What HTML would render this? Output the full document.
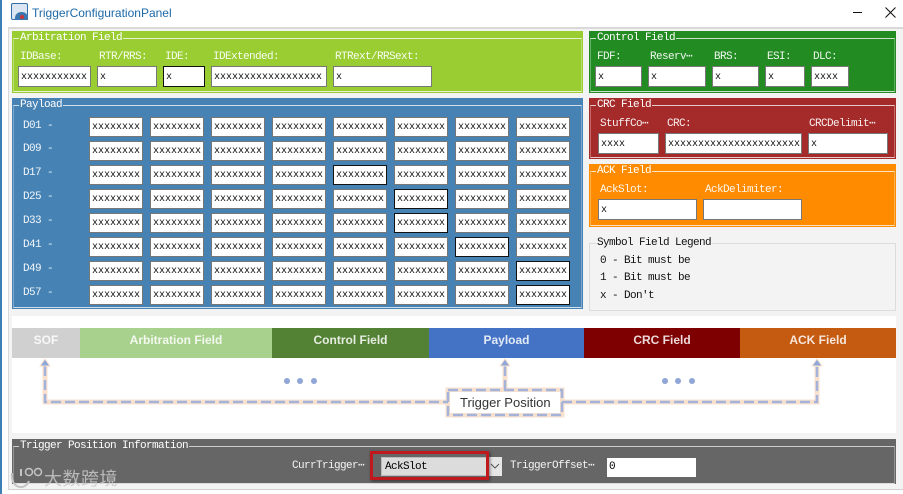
<!DOCTYPE html>
<html><head><meta charset="utf-8"><style>
html,body{margin:0;padding:0}
body{width:903px;height:494px;overflow:hidden;background:#fff;position:relative;font-family:"Liberation Mono","WenQuanYi Zen Hei",monospace;font-size:11px;letter-spacing:-.6px}
div,span,b{position:absolute;white-space:nowrap;box-sizing:border-box}
.p{background:#4682b4}
.box{border:1px solid rgba(255,255,255,.75);border-left-color:rgba(255,255,255,.3);border-right-color:rgba(255,255,255,.3)}
.lg{color:#fff;line-height:14px;padding:0 1px}
.l{color:rgba(255,255,255,.92);line-height:14px}
.k{color:#111;line-height:14px}
.i{background:#fff;border:1px solid #777;color:#111;line-height:21px;padding-left:2px;height:21px;font-size:10px;letter-spacing:0}
.d{border-color:#111}
.g{left:89px;top:117px;width:482px;height:188px;display:grid;grid-template-columns:repeat(8,54px);grid-auto-rows:20px;column-gap:7px;row-gap:4px}
.g p{margin:0;background:#fff;border:1px solid #777;color:#111;line-height:20px;padding-left:2px;overflow:hidden;font-size:10px;letter-spacing:0}
.g p.d{border-color:#111}
.bar{top:328px;height:30px;color:rgba(255,255,255,.85);font:bold 12px/25px "Liberation Sans",sans-serif;letter-spacing:0;text-align:center}
</style></head><body>
<div style="left:0;top:0;width:2px;height:494px;background:#3d7fb5"></div>
<div style="left:2px;top:27px;width:901px;height:467px;background:#fff"></div>
<div style="left:8px;top:27px;width:895px;height:463px;background:#f3f3f3;border-top:2px solid #d9d9d9;border-left:1px solid #d9d9d9;border-bottom:1px solid #d0d0d0"></div>
<div style="left:11px;top:3px;width:17px;height:17px;background:#dbe6f2;border:1px solid #2f6ea8;border-radius:2px"></div>
<div style="left:15px;top:12px;width:13px;height:8px;background:#3d77b0;border-radius:6px 6px 0 0"></div>
<div style="left:20px;top:15px;width:4px;height:4px;background:#c33;border-radius:50%"></div>
<span style="left:32px;top:4px;font:12px/18px 'Liberation Sans',sans-serif;letter-spacing:0;color:#1c69a8">TriggerConfigurationPanel</span>
<div style="left:853px;top:12px;width:9px;height:1px;background:#111"></div>
<svg style="position:absolute;left:885px;top:7px" width="11" height="11"><path d="M.5.5L10.5 10.5M10.5.5L.5 10.5" stroke="#111" fill="none"/></svg>

<!-- Arbitration -->
<div style="left:12px;top:31px;width:571px;height:62px;background:#9acd32"></div>
<div class="box" style="left:13px;top:38px;width:569px;height:54px"></div>
<span class="lg" style="left:19px;top:31px;background:#9acd32">Arbitration Field</span>
<span class="l" style="left:20px;top:50px">IDBase:</span><span class="l" style="left:99px;top:50px">RTR/RRS:</span><span class="l" style="left:165px;top:50px">IDE:</span><span class="l" style="left:213px;top:50px">IDExtended:</span><span class="l" style="left:335px;top:50px">RTRext/RRSext:</span>
<div class="i" style="left:18px;top:66px;width:73px">xxxxxxxxxxx</div>
<div class="i" style="left:97px;top:66px;width:60px">x</div>
<div class="i d" style="left:163px;top:66px;width:42px">x</div>
<div class="i" style="left:211px;top:66px;width:116px">xxxxxxxxxxxxxxxxxx</div>
<div class="i" style="left:333px;top:66px;width:99px">x</div>

<!-- Payload -->
<div class="p" style="left:12px;top:98px;width:571px;height:211px"></div>
<div class="box" style="left:13px;top:105px;width:569px;height:203px"></div>
<span class="lg" style="left:19px;top:98px;background:#4682b4">Payload</span>
<span class="l" style="left:23px;top:119px">D01 -</span><span class="l" style="left:23px;top:142px">D09 -</span><span class="l" style="left:23px;top:166px">D17 -</span><span class="l" style="left:23px;top:190px">D25 -</span><span class="l" style="left:23px;top:214px">D33 -</span><span class="l" style="left:23px;top:238px">D41 -</span><span class="l" style="left:23px;top:262px">D49 -</span><span class="l" style="left:23px;top:286px">D57 -</span>
<div class="g">
<p>xxxxxxxx</p><p>xxxxxxxx</p><p>xxxxxxxx</p><p>xxxxxxxx</p><p>xxxxxxxx</p><p>xxxxxxxx</p><p>xxxxxxxx</p><p>xxxxxxxx</p>
<p>xxxxxxxx</p><p>xxxxxxxx</p><p>xxxxxxxx</p><p>xxxxxxxx</p><p>xxxxxxxx</p><p>xxxxxxxx</p><p>xxxxxxxx</p><p>xxxxxxxx</p>
<p>xxxxxxxx</p><p>xxxxxxxx</p><p>xxxxxxxx</p><p>xxxxxxxx</p><p class="d">xxxxxxxx</p><p>xxxxxxxx</p><p>xxxxxxxx</p><p>xxxxxxxx</p>
<p>xxxxxxxx</p><p>xxxxxxxx</p><p>xxxxxxxx</p><p>xxxxxxxx</p><p>xxxxxxxx</p><p class="d">xxxxxxxx</p><p>xxxxxxxx</p><p>xxxxxxxx</p>
<p>xxxxxxxx</p><p>xxxxxxxx</p><p>xxxxxxxx</p><p>xxxxxxxx</p><p>xxxxxxxx</p><p class="d">xxxxxxxx</p><p>xxxxxxxx</p><p>xxxxxxxx</p>
<p>xxxxxxxx</p><p>xxxxxxxx</p><p>xxxxxxxx</p><p>xxxxxxxx</p><p>xxxxxxxx</p><p>xxxxxxxx</p><p class="d">xxxxxxxx</p><p>xxxxxxxx</p>
<p>xxxxxxxx</p><p>xxxxxxxx</p><p>xxxxxxxx</p><p>xxxxxxxx</p><p>xxxxxxxx</p><p>xxxxxxxx</p><p>xxxxxxxx</p><p class="d">xxxxxxxx</p>
<p>xxxxxxxx</p><p>xxxxxxxx</p><p>xxxxxxxx</p><p>xxxxxxxx</p><p>xxxxxxxx</p><p>xxxxxxxx</p><p>xxxxxxxx</p><p class="d">xxxxxxxx</p>
</div>

<!-- Control -->
<div style="left:589px;top:31px;width:307px;height:62px;background:#228b22"></div>
<div class="box" style="left:590px;top:38px;width:305px;height:54px"></div>
<span class="lg" style="left:596px;top:31px;background:#228b22">Control Field</span>
<span class="l" style="left:597px;top:50px">FDF:</span><span class="l" style="left:650px;top:50px">Reserv⋯</span><span class="l" style="left:714px;top:50px">BRS:</span><span class="l" style="left:767px;top:50px">ESI:</span><span class="l" style="left:813px;top:50px">DLC:</span>
<div class="i" style="left:595px;top:66px;width:47px">x</div>
<div class="i" style="left:648px;top:66px;width:58px">x</div>
<div class="i" style="left:712px;top:66px;width:47px">x</div>
<div class="i" style="left:765px;top:66px;width:40px">x</div>
<div class="i" style="left:811px;top:66px;width:38px">xxxx</div>

<!-- CRC -->
<div style="left:589px;top:98px;width:307px;height:61px;background:#a52a2a"></div>
<div class="box" style="left:590px;top:105px;width:305px;height:53px"></div>
<span class="lg" style="left:596px;top:98px;background:#a52a2a">CRC Field</span>
<span class="l" style="left:600px;top:117px">StuffCo⋯</span><span class="l" style="left:667px;top:117px">CRC:</span><span class="l" style="left:809px;top:117px">CRCDelimit⋯</span>
<div class="i" style="left:598px;top:133px;width:61px">xxxx</div>
<div class="i" style="left:665px;top:133px;width:137px">xxxxxxxxxxxxxxxxxxxxxx</div>
<div class="i" style="left:808px;top:133px;width:80px">x</div>

<!-- ACK -->
<div style="left:589px;top:164px;width:307px;height:63px;background:#ff8c00"></div>
<div class="box" style="left:590px;top:171px;width:305px;height:55px"></div>
<span class="lg" style="left:596px;top:164px;background:#ff8c00">ACK Field</span>
<span class="l" style="left:600px;top:183px">AckSlot:</span><span class="l" style="left:705px;top:183px">AckDelimiter:</span>
<div class="i" style="left:598px;top:199px;width:99px">x</div>
<div class="i" style="left:703px;top:199px;width:99px"></div>

<!-- Legend -->
<div style="left:589px;top:243px;width:307px;height:68px;border:1px solid #dcdcdc"></div>
<span class="k" style="left:596px;top:236px;background:#f3f3f3;padding:0 1px">Symbol Field Legend</span>
<span class="k" style="left:600px;top:254px">0 - Bit must be</span>
<span class="k" style="left:600px;top:271px">1 - Bit must be</span>
<span class="k" style="left:600px;top:289px">x - Don't</span>

<!-- Diagram -->
<div style="left:12px;top:316px;width:884px;height:117px;background:#fff"></div>
<div class="bar" style="left:12px;width:68px;background:#d0d0d0">SOF</div>
<div class="bar" style="left:80px;width:192px;background:#a9d18e">Arbitration Field</div>
<div class="bar" style="left:272px;width:157px;background:#548235">Control Field</div>
<div class="bar" style="left:429px;width:155px;background:#4472c4">Payload</div>
<div class="bar" style="left:584px;width:156px;background:#7f0000">CRC Field</div>
<div class="bar" style="left:740px;width:156px;background:#c55a11">ACK Field</div>
<svg style="position:absolute;left:0;top:0" width="903" height="494">
<g fill="none">
<path d="M45 366V402H448M562 402H817V366M505 390V366M448 390H562V415H448Z" stroke="#f8e0cf" stroke-width="5"/>
<path d="M45 366V402H448M562 402H817V366M505 390V366M448 390H562V415H448Z" stroke="#a3b3da" stroke-width="2.5" stroke-dasharray="10 4"/>
</g>
<path d="M45 359l5 7h-10zM505 359l5 7h-10zM817 359l5 7h-10z" fill="#8ea8d8" stroke="#f8e0cf"/>
<rect x="450" y="392" width="110" height="21" fill="#fff"/>
<g fill="#8fa6d6"><circle cx="287" cy="381" r="3"/><circle cx="300" cy="381" r="3"/><circle cx="314" cy="381" r="3"/><circle cx="665" cy="381" r="3"/><circle cx="678" cy="381" r="3"/><circle cx="692" cy="381" r="3"/></g>
</svg>
<span style="left:460px;top:394px;font:13px/17px 'Liberation Sans',sans-serif;letter-spacing:0;color:#333">Trigger Position</span>

<!-- Trigger info -->
<div style="left:12px;top:439px;width:884px;height:45px;background:#666"></div>
<div style="left:13px;top:446px;width:882px;height:38px;border:1px solid rgba(255,255,255,.3);border-top-color:#ccc;border-bottom-color:#ddd"></div>
<span class="lg" style="left:19px;top:439px;background:#666">Trigger Position Information</span>
<span class="l" style="left:292px;top:459px">CurrTrigger⋯</span>
<div style="left:381px;top:457px;width:121px;height:19px;background:#dcdcdc;border:1px solid #bbb"></div>
<div style="left:487px;top:457px;width:15px;height:19px;background:#e6e6e6;border-left:1px solid #aaa"></div>
<svg style="position:absolute;left:490px;top:463px" width="10" height="7"><path d="M1 1l4 4 4-4" fill="none" stroke="#555"/></svg>
<span class="k" style="left:385px;top:460px;color:#000">AckSlot</span>
<div style="left:370px;top:451px;width:119px;height:29px;border:3px solid #c0181c;box-shadow:1px 1px 3px rgba(0,0,0,.5)"></div>
<span class="l" style="left:510px;top:459px">TriggerOffset⋯</span>
<div style="left:607px;top:458px;width:89px;height:19px;background:#fff;color:#000;line-height:19px;padding-left:2px">0</div>

<!-- Watermark -->
<svg style="position:absolute;left:7px;top:464px" width="38" height="26"><g fill="none" stroke="#c4c4c4" stroke-width="2"><path d="M5 9c-1 7 2 14 9 14 4 0 7-3 8-6"/><path d="M14 5v7"/><circle cx="22" cy="8" r="3.5" stroke-width="1.5"/><circle cx="31" cy="8" r="3.5" stroke-width="1.5"/></g></svg>
<span style="left:44px;top:466px;font:18px/24px 'Noto Sans CJK SC',sans-serif;letter-spacing:.5px;color:rgba(200,200,200,.85)">大数跨境</span>
</body></html>
